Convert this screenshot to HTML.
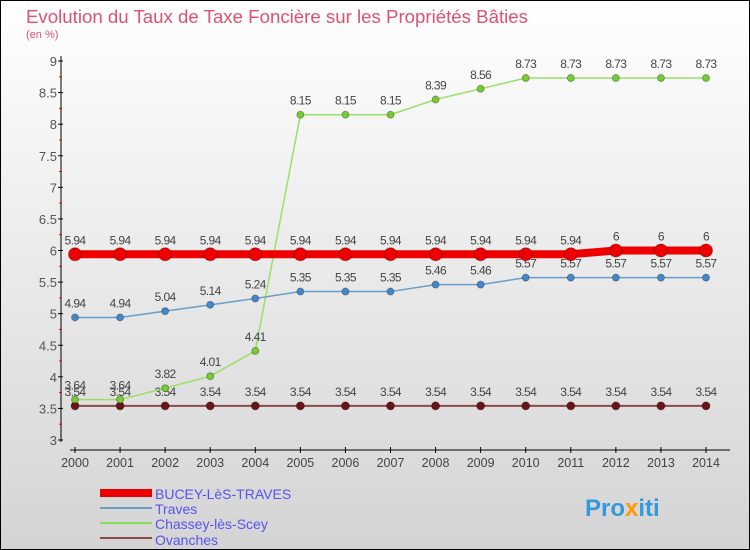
<!DOCTYPE html>
<html><head><meta charset="utf-8"><style>
body{margin:0}
svg{display:block;font-family:"Liberation Sans",sans-serif}
</style></head><body>
<svg width="750" height="550" xmlns="http://www.w3.org/2000/svg">
<defs><linearGradient id="bg" x1="0" y1="0" x2="0" y2="1"><stop offset="0" stop-color="#ffffff"/><stop offset="1" stop-color="#d4d4d4"/></linearGradient></defs>
<rect x="0.5" y="0.5" width="749" height="549" fill="url(#bg)" stroke="#000"/>
<text x="26" y="23" font-size="18" fill="#e05070" textLength="502" lengthAdjust="spacingAndGlyphs">Evolution du Taux de Taxe Foncière sur les Propriétés Bâties</text>
<text x="26" y="38" font-size="11" fill="#e05070">(en %)</text>
<g id="axes"></g>
<g id="series"></g>
<g id="legend">
<rect x="100" y="489" width="52" height="8" fill="#ee0000"/>
<text x="155" y="499" font-size="14" fill="#5555ee">BUCEY-LèS-TRAVES</text>
<rect x="100" y="507" width="52" height="2" fill="#6a9ec8"/>
<text x="155" y="514" font-size="14" fill="#5555ee">Traves</text>
<rect x="100" y="522" width="52" height="2" fill="#88dd55"/>
<text x="155" y="529" font-size="14" fill="#5555ee">Chassey-lès-Scey</text>
<rect x="100" y="537" width="52" height="2" fill="#8a4a4a"/>
<text x="155" y="545" font-size="14" fill="#5555ee">Ovanches</text>
</g>
<text x="585" y="516" font-size="24" font-weight="bold" fill="#3399dd">Pro<tspan fill="#ff9900">x</tspan>iti</text>
</svg>
<script>
const years=[2000,2001,2002,2003,2004,2005,2006,2007,2008,2009,2010,2011,2012,2013,2014];
const bucey=[5.94,5.94,5.94,5.94,5.94,5.94,5.94,5.94,5.94,5.94,5.94,5.94,6,6,6];
const traves=[4.94,4.94,5.04,5.14,5.24,5.35,5.35,5.35,5.46,5.46,5.57,5.57,5.57,5.57,5.57];
const chassey=[3.64,3.64,3.82,4.01,4.41,8.15,8.15,8.15,8.39,8.56,8.73,8.73,8.73,8.73,8.73];
const ovanches=[3.54,3.54,3.54,3.54,3.54,3.54,3.54,3.54,3.54,3.54,3.54,3.54,3.54,3.54,3.54];
const yTicks=["3","3.5","4","4.5","5","5.5","6","6.5","7","7.5","8","8.5","9"];
const NS="http://www.w3.org/2000/svg";
function X(i){return 75+i*(706-75)/14;}
function Y(v){return 440-(v-3)*(440-61)/6;}
function mk(t,a,p){const e=document.createElementNS(NS,t);for(const k in a)e.setAttribute(k,a[k]);(p||document.getElementById('series')).appendChild(e);return e;}
const ax=document.getElementById('axes');
let l=mk('line',{x1:61,y1:56,x2:61,y2:442,stroke:'#000'},ax);


l=mk('line',{x1:70,y1:450,x2:730,y2:450,stroke:'#000'},ax);


yTicks.forEach((t,i)=>{const v=parseFloat(t);const y=Y(v);
mk('line',{x1:58,y1:y,x2:63,y2:y,stroke:'#000'},ax);
if(i<yTicks.length-1)mk('line',{x1:59,y1:Y(v+0.25),x2:62,y2:Y(v+0.25),stroke:'#f00'},ax);
const tx=mk('text',{x:57,y:y+5,'font-size':13,fill:'#555','text-anchor':'end'},ax);tx.textContent=t;

});
years.forEach((yr,i)=>{mk('line',{x1:X(i),y1:447,x2:X(i),y2:453,stroke:'#000'},ax);
const tx=mk('text',{x:X(i),y:467,'font-size':12.5,fill:'#444','text-anchor':'middle'},ax);tx.textContent=yr;

});
function series(arr,col,w,r,dot,name){
const pts=arr.map((v,i)=>X(i)+','+Y(v)).join(' ');
const pl=mk('polyline',{points:pts,fill:'none',stroke:col,'stroke-width':w});


arr.forEach((v,i)=>{const c=mk('circle',{cx:X(i),cy:Y(v),r:r,fill:dot,stroke:'rgba(0,0,0,0.3)'});


const t=mk('text',{x:X(i),y:Y(v)-10,'font-size':12,fill:'#444','text-anchor':'middle','letter-spacing':'-0.6'});t.textContent=String(v);

});}
series(ovanches,'#8a4a4a',2,4,'#6a1515','ovanches');
series(chassey,'#99e066',1.5,3.5,'#77cc33','chassey');
series(traves,'#6a9ec8',1.5,3.5,'#4488cc','traves');
series(bucey,'#ee0000',8,6.5,'#ee0000','bucey');
</script>
</body></html>
